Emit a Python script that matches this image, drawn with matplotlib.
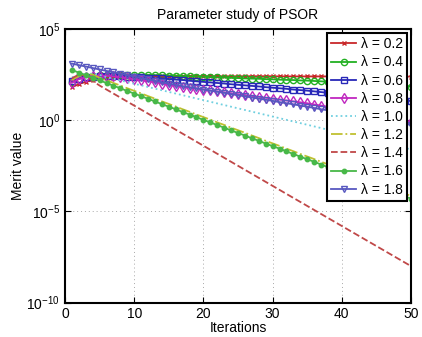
import numpy as np
import matplotlib
matplotlib.use("Agg")
import matplotlib.pyplot as plt

plt.rcParams['font.family'] = ['Liberation Sans', 'DejaVu Sans']
plt.rcParams['mathtext.fontset'] = 'custom'
plt.rcParams['mathtext.rm'] = 'Liberation Sans'
plt.rcParams['mathtext.it'] = 'Liberation Sans:italic'
plt.rcParams['font.size'] = 10

iterations = list(range(1, 51))

# log10 of merit value
log_merit_02 = [1.80, 1.98, 2.10, 2.18, 2.24, 2.29, 2.33, 2.36, 2.38, 2.40,
                2.41, 2.41, 2.41, 2.41, 2.41, 2.41, 2.41, 2.41, 2.41, 2.41,
                2.41, 2.41, 2.41, 2.41, 2.41, 2.41, 2.41, 2.41, 2.41, 2.41,
                2.40, 2.40, 2.40, 2.40, 2.40, 2.40, 2.40, 2.40, 2.40, 2.40,
                2.40, 2.40, 2.40, 2.40, 2.40, 2.39, 2.39, 2.39, 2.39, 2.39]
log_merit_04 = [2.10, 2.28, 2.38, 2.44, 2.47, 2.49, 2.50, 2.50, 2.50, 2.49,
                2.49, 2.48, 2.47, 2.46, 2.45, 2.44, 2.42, 2.41, 2.39, 2.38,
                2.37, 2.35, 2.34, 2.32, 2.31, 2.29, 2.28, 2.27, 2.25, 2.24,
                2.22, 2.21, 2.20, 2.18, 2.17, 2.15, 2.13, 2.11, 2.09, 2.07,
                2.04, 2.02, 2.00, 1.98, 1.96, 1.94, 1.92, 1.89, 1.87, 1.84]
log_merit_06 = [2.15, 2.28, 2.35, 2.39, 2.41, 2.42, 2.42, 2.41, 2.39, 2.38,
                2.36, 2.34, 2.31, 2.29, 2.26, 2.23, 2.20, 2.16, 2.13, 2.10,
                2.07, 2.04, 2.01, 1.97, 1.94, 1.91, 1.88, 1.85, 1.81, 1.78,
                1.75, 1.72, 1.68, 1.65, 1.62, 1.58, 1.54, 1.50, 1.47, 1.43,
                1.39, 1.35, 1.32, 1.28, 1.24, 1.20, 1.16, 1.13, 1.09, 1.05]
log_merit_08 = [2.05, 2.25, 2.36, 2.42, 2.44, 2.43, 2.40, 2.36, 2.31, 2.26,
                2.20, 2.14, 2.08, 2.01, 1.93, 1.88, 1.83, 1.78, 1.73, 1.68,
                1.63, 1.58, 1.53, 1.48, 1.43, 1.38, 1.33, 1.28, 1.23, 1.18,
                1.13, 1.08, 1.03, 0.98, 0.93, 0.86, 0.80, 0.73, 0.66, 0.60,
                0.53, 0.46, 0.39, 0.33, 0.26, 0.19, 0.12, 0.06, -0.01, -0.08]
log_merit_10 = [2.35, 2.50, 2.56, 2.55, 2.48, 2.36, 2.27, 2.18, 2.09, 2.00,
                1.91, 1.82, 1.73, 1.64, 1.55, 1.46, 1.37, 1.28, 1.19, 1.10,
                1.01, 0.92, 0.83, 0.74, 0.65, 0.56, 0.47, 0.38, 0.29, 0.20,
                0.11, 0.02, -0.07, -0.16, -0.25, -0.34, -0.43, -0.52, -0.61, -0.70,
                -0.79, -0.88, -0.97, -1.06, -1.15, -1.24, -1.33, -1.42, -1.51, -1.60]
log_merit_12 = [2.20, 2.42, 2.52, 2.50, 2.33, 2.19, 2.04, 1.90, 1.75, 1.61,
                1.47, 1.32, 1.18, 1.03, 0.89, 0.75, 0.60, 0.46, 0.31, 0.17,
                0.03, -0.12, -0.26, -0.41, -0.55, -0.69, -0.84, -0.98, -1.13, -1.27,
                -1.41, -1.56, -1.70, -1.85, -1.99, -2.13, -2.28, -2.42, -2.57, -2.71,
                -2.85, -3.00, -3.14, -3.29, -3.43, -3.57, -3.72, -3.86, -4.01, -4.15]
log_merit_14 = [2.30, 2.50, 2.45, 2.15, 1.90, 1.68, 1.46, 1.24, 1.02, 0.80,
                0.58, 0.36, 0.14, -0.08, -0.30, -0.52, -0.74, -0.96, -1.18, -1.40,
                -1.62, -1.84, -2.06, -2.28, -2.50, -2.72, -2.94, -3.16, -3.38, -3.60,
                -3.82, -4.04, -4.26, -4.48, -4.70, -4.92, -5.14, -5.36, -5.58, -5.80,
                -6.02, -6.24, -6.46, -6.68, -6.90, -7.12, -7.34, -7.56, -7.78, -8.00]
log_merit_16 = [2.75, 2.61, 2.47, 2.32, 2.18, 2.04, 1.89, 1.75, 1.60, 1.46,
                1.32, 1.17, 1.03, 0.88, 0.74, 0.60, 0.45, 0.31, 0.16, 0.02,
                -0.12, -0.27, -0.41, -0.56, -0.70, -0.84, -0.99, -1.13, -1.28, -1.42,
                -1.56, -1.71, -1.85, -2.00, -2.14, -2.28, -2.43, -2.57, -2.72, -2.86,
                -3.00, -3.15, -3.29, -3.44, -3.58, -3.72, -3.87, -4.01, -4.16, -4.30]
log_merit_18 = [3.10, 3.02, 2.94, 2.86, 2.78, 2.70, 2.63, 2.55, 2.47, 2.39,
                2.31, 2.24, 2.16, 2.08, 2.00, 1.94, 1.87, 1.81, 1.75, 1.68,
                1.62, 1.56, 1.50, 1.43, 1.37, 1.31, 1.24, 1.18, 1.12, 1.06,
                0.99, 0.93, 0.87, 0.80, 0.74, 0.67, 0.60, 0.54, 0.47, 0.40,
                0.34, 0.27, 0.20, 0.14, 0.07, 0.00, -0.06, -0.13, -0.20, -0.26]

series = [
    ("λ = 0.2", log_merit_02, dict(color="#c8282a", ls="-", marker="x", ms=3.5, mfc="none")),
    ("λ = 0.4", log_merit_04, dict(color="#22b022", ls="-", marker="o", ms=4.5, mfc="none")),
    ("λ = 0.6", log_merit_06, dict(color="#2828b8", ls="-", marker="s", ms=4.5, mfc="none")),
    ("λ = 0.8", log_merit_08, dict(color="#c028c0", ls="-", marker="d", ms=5, mfc="none")),
    ("λ = 1.0", log_merit_10, dict(color="#70d0e0", ls=":", marker=None)),
    ("λ = 1.2", log_merit_12, dict(color="#c0c030", ls="-.", marker=None)),
    ("λ = 1.4", log_merit_14, dict(color="#c04848", ls="--", marker=None)),
    ("λ = 1.6", log_merit_16, dict(color="#48b848", ls="-", marker="o", ms=3.2)),
    ("λ = 1.8", log_merit_18, dict(color="#5858c0", ls="-", marker="v", ms=5, mfc="none")),
]

fig = plt.figure(figsize=(4.22, 3.37), dpi=100)
ax = fig.add_axes([0.154, 0.102, 0.820, 0.812])

for label, logs, style in series:
    ax.semilogy(iterations, 10 ** np.array(logs), label=label, lw=1.3, mew=1.0, **style)

ax.set_xlim(0, 50)
ax.set_ylim(1e-10, 1e5)
ax.set_xticks([0, 10, 20, 30, 40, 50])
ax.set_yticks([1e-10, 1e-5, 1e0, 1e5])
ax.minorticks_off()
ax.grid(True, ls=(0, (1, 3)), color="#a8a8a8", lw=0.7)
ax.tick_params(direction="in", top=True, right=True, length=4, labelsize=10)
for sp in ax.spines.values():
    sp.set_linewidth(1.5)

ax.set_title("Parameter study of PSOR", fontsize=10, pad=7)
ax.set_xlabel("Iterations", labelpad=0)
ax.set_ylabel("Merit value", labelpad=1)

leg = ax.legend(loc="upper right", fancybox=False, framealpha=1, edgecolor="black",
                borderaxespad=0.3, handlelength=1.8, handletextpad=0.3,
                labelspacing=0.3, borderpad=0.3, fontsize=10)
leg.get_frame().set_linewidth(1.5)

fig.savefig("out.png", dpi=100)
